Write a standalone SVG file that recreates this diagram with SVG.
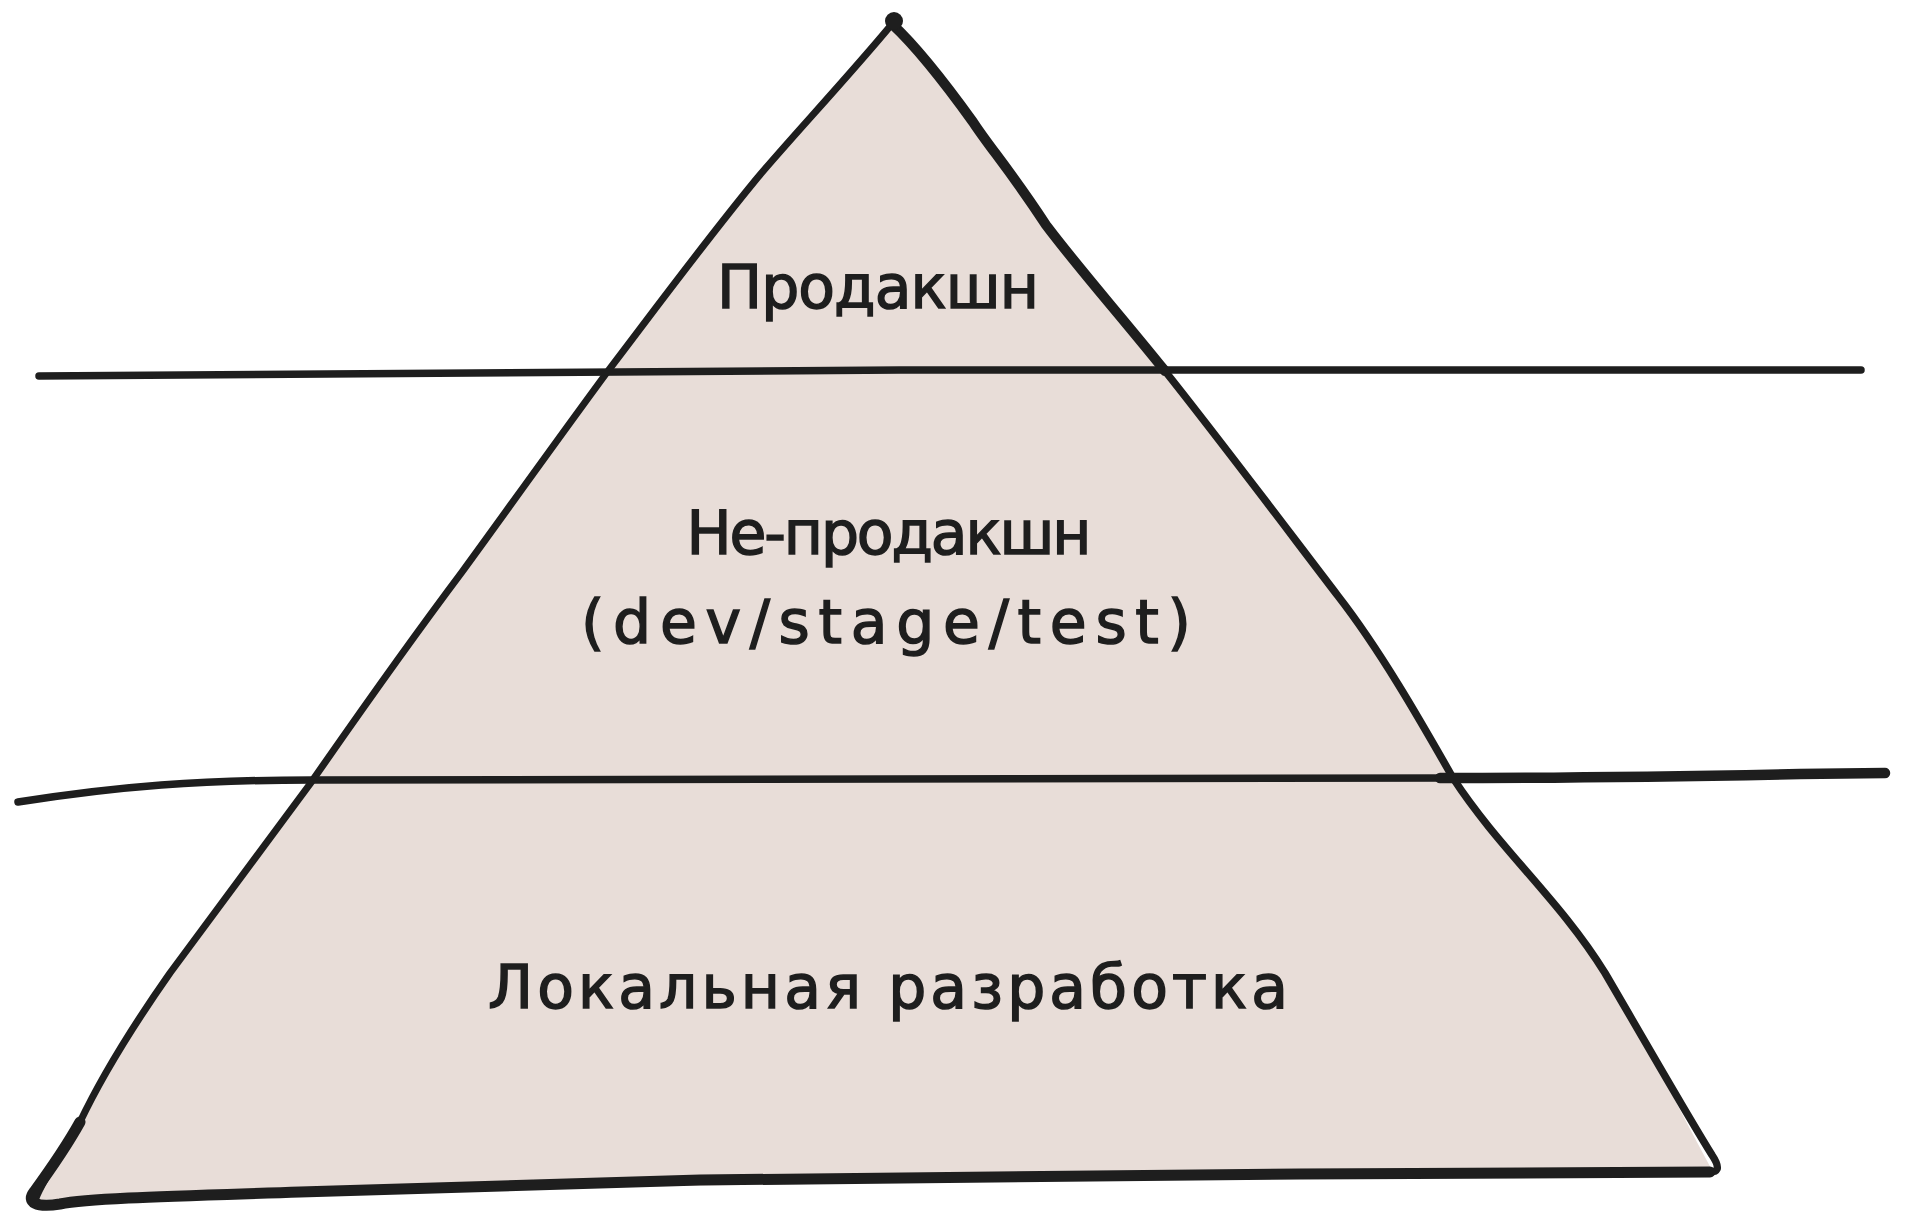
<svg xmlns="http://www.w3.org/2000/svg" width="1907" height="1228" viewBox="0 0 1907 1228">
  <style>
    .ink { fill: none; stroke: #1e1e1e; stroke-linecap: round; stroke-linejoin: round; }
    .lbl { font-family: "DejaVu Sans", "Liberation Sans", sans-serif; font-size: 60px; fill: #1e1e1e; text-anchor: middle; stroke: #1e1e1e; stroke-width: 1.5px; }
  </style>
  <rect width="1907" height="1228" fill="#ffffff"/>
  <g id="pyramid">
    <path d="M 892 24 C 850 75, 780 150, 754 182 C 700 248, 650 316, 608 371 C 560 436, 500 520, 462 572 C 420 628, 360 712, 310 784 C 260 852, 210 920, 170 973 C 130 1030, 100 1080, 80 1122 C 60 1160, 40 1185, 36 1200 L 300 1192 L 1712 1170 C 1690 1130, 1650 1050, 1605 973 C 1560 900, 1500 850, 1453 778 C 1420 720, 1380 650, 1338 596 C 1280 520, 1220 440, 1165 371 C 1120 315, 1080 270, 1046 225 C 1010 170, 990 148, 973 122 C 950 90, 920 50, 892 24 Z" fill="#e8ddd8"/>
    <path class="ink" stroke-width="7" d="M 892 24 C 850 75, 780 150, 754 182 C 700 248, 650 316, 608 371 C 560 436, 500 520, 462 572 C 420 628, 360 712, 310 784 C 260 852, 210 920, 170 973 C 130 1030, 100 1080, 80 1122 C 65 1150, 45 1175, 36 1198"/>
    <path class="ink" stroke-width="10" d="M 892 24 C 920 50, 950 90, 973 122 C 990 148, 1010 170, 1046 225 C 1080 270, 1120 315, 1165 371"/>
    <path class="ink" stroke-width="7.5" d="M 1165 371 C 1220 440, 1280 520, 1338 596 C 1380 650, 1420 720, 1453 778 C 1500 850, 1560 900, 1605 973 C 1650 1050, 1690 1120, 1712 1155 C 1722 1170, 1716 1172, 1710 1172"/>
    <path class="ink" stroke-width="11" d="M 1710 1172 L 1300 1174 L 700 1180 L 300 1192 C 180 1196, 90 1198, 60 1204 C 36 1208, 26 1202, 34 1192 C 50 1170, 70 1140, 80 1122"/>
    <circle cx="894" cy="21" r="9" fill="#1e1e1e"/>
  </g>
  <g id="dividers">
    <path class="ink" stroke-width="7.5" d="M 39 376 C 300 372, 600 370, 900 370 L 1861 370"/>
    <path class="ink" stroke-width="7.5" d="M 18 802 C 120 786, 200 780, 312 780 L 1450 778"/>
    <path class="ink" stroke-width="10.5" d="M 1440 778 C 1600 778, 1700 776, 1800 774 L 1885 773"/>
  </g>
  <g id="label-prod">
    <text class="lbl" x="878" y="308" textLength="322" lengthAdjust="spacing">Продакшн</text>
  </g>
  <g id="label-nonprod">
    <text class="lbl" x="889" y="554" textLength="405" lengthAdjust="spacing">Не-продакшн</text>
    <text class="lbl" x="886" y="643" textLength="610" lengthAdjust="spacing">(dev/stage/test)</text>
  </g>
  <g id="label-local">
    <text class="lbl" x="888" y="1008" textLength="800" lengthAdjust="spacing">Локальная разработка</text>
  </g>
</svg>
